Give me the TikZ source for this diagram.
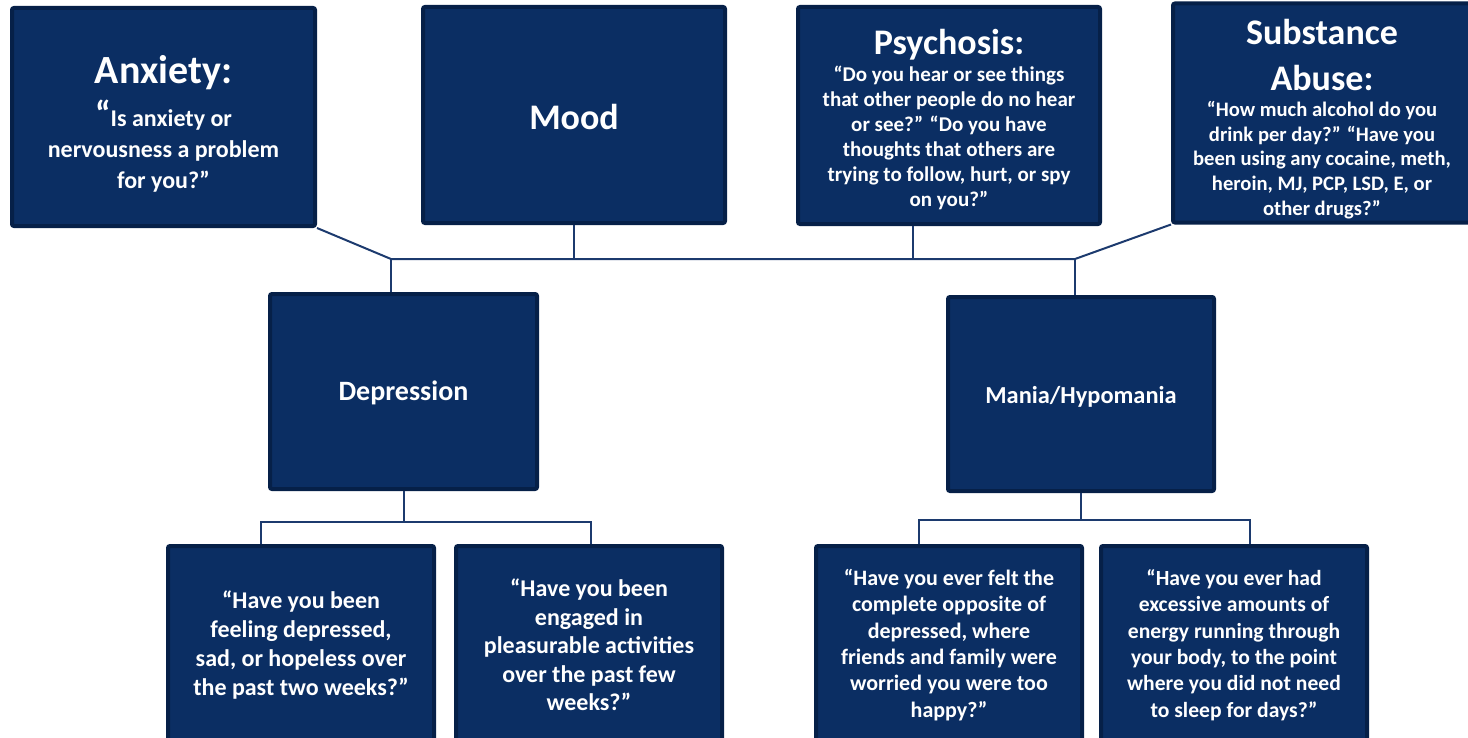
\documentclass[tikz,border=0pt]{standalone}
\usepackage{fontspec}
\setmainfont{Carlito}
\definecolor{boxfill}{RGB}{11,46,99}
\definecolor{boxedge}{RGB}{6,32,72}
\definecolor{linkcol}{RGB}{28,58,110}
\newcommand{\boxtitle}{\fontsize{18}{21}\selectfont}
\tikzset{
  box/.style={draw=boxedge, line width=2pt, fill=boxfill, rounded corners=1pt,
    text=white, align=center, inner sep=2pt, font=\bfseries},
  link/.style={draw=linkcol, line width=1pt}
}
\begin{document}
\begin{tikzpicture}[x=0.5pt,y=-0.5pt]
    \useasboundingbox (0,0) rectangle (1468,738);

    % top row
    \node[box, minimum width=151.5pt, minimum height=109pt,
      font=\bfseries\fontsize{12}{15.5}\selectfont] (anx) at (163.5,117)
      {{\fontsize{20}{23}\selectfont\rule{0pt}{21pt}Anxiety:}\\[4pt]{\boxtitle “}Is anxiety or\\ nervousness a problem\\ for you?”};
    \node[box, minimum width=151pt, minimum height=108pt] (mood) at (574,115)
      {\boxtitle\rule{0pt}{15pt}Mood};
    \node[box, minimum width=151pt, minimum height=108.5pt,
      font=\bfseries\fontsize{10.5}{12.5}\selectfont] (psy) at (949,115.5)
      {{\boxtitle\rule{0pt}{16.5pt}Psychosis:}\\[1pt] “Do you hear or see things\\ that other people do no hear\\
       or see?” “Do you have\\ thoughts that others are\\ trying to follow, hurt, or spy\\ on you?”};
    \node[box, minimum width=149pt, minimum height=109pt,
      font=\bfseries\fontsize{10.3}{12.3}\selectfont] (sub) at (1322,113)
      {{\boxtitle\rule{0pt}{18.5pt}Substance}\\[9pt]{\boxtitle Abuse:}\\[1pt] “How much alcohol do you\\
       drink per day?” “Have you\\ been using any cocaine, meth,\\ heroin, MJ, PCP, LSD, E, or\\ other drugs?”};

    % middle row
    \node[box, minimum width=133.5pt, minimum height=97.5pt,
      font=\bfseries\fontsize{14}{17}\selectfont] (dep) at (403.5,391.5) {\rule{0pt}{11.5pt}Depression};
    \node[box, minimum width=133pt, minimum height=97pt,
      font=\bfseries\fontsize{12.2}{15}\selectfont] (mania) at (1081,394) {\rule{0pt}{11.5pt}Mania/Hypomania};

    % bottom row
    \node[box, minimum width=133pt, minimum height=99pt,
      font=\bfseries\fontsize{12}{14.5}\selectfont] (q1) at (301,645)
      {“Have you been\\ feeling depressed,\\ sad, or hopeless over\\ the past two weeks?”};
    \node[box, minimum width=133pt, minimum height=99pt,
      font=\bfseries\fontsize{12}{14.25}\selectfont] (q2) at (589,645)
      {“Have you been\\ engaged in\\ pleasurable activities\\ over the past few\\ weeks?”};
    \node[box, minimum width=133pt, minimum height=99pt,
      font=\bfseries\fontsize{11}{13.2}\selectfont] (q3) at (949,645)
      {“Have you ever felt the\\ complete opposite of\\ depressed, where\\ friends and family were\\
       worried you were too\\ happy?”};
    \node[box, minimum width=133pt, minimum height=99pt,
      font=\bfseries\fontsize{10.8}{13.2}\selectfont] (q4) at (1234,645)
      {“Have you ever had\\ excessive amounts of\\ energy running through\\ your body, to the point\\
       where you did not need\\ to sleep for days?”};

    % connectors
    \coordinate (jl) at (391,259);
    \coordinate (jr) at (1075,259);
    \coordinate (jp) at (913,259);
    \draw[link] (anx.south east) -- (jl) -- (jr) -- (sub.south west);
    \draw[link] (mood.south) -- (mood.south |- jl);
    \draw[link] (jp |- psy.south) -- (jp);
    \draw[link] (jl) -- (jl |- dep.north);
    \draw[link] (jr) -- (jr |- mania.north);

    \coordinate (dl) at (261,522);
    \coordinate (dr) at (591,522);
    \draw[link] (dep.south) -- (dep.south |- dl);
    \draw[link] (dl |- q1.north) -- (dl) -- (dr) -- (dr |- q2.north);

    \coordinate (ml) at (919,520);
    \coordinate (mr) at (1250,520);
    \draw[link] (mania.south) -- (mania.south |- ml);
    \draw[link] (ml |- q3.north) -- (ml) -- (mr) -- (mr |- q4.north);
  \end{tikzpicture}
\end{document}
